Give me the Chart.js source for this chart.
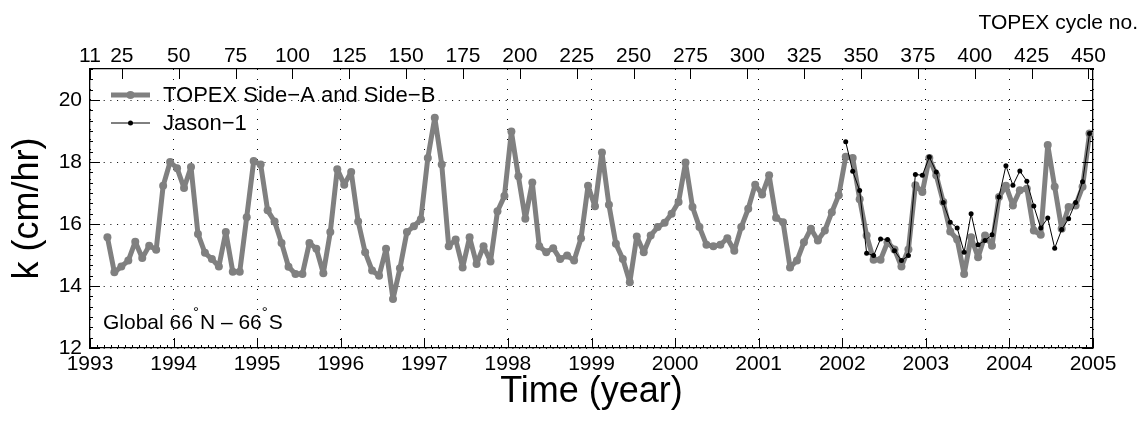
<!DOCTYPE html>
<html>
<head>
<meta charset="utf-8">
<script src="https://cdn.jsdelivr.net/npm/chart.js@4.4.0/dist/chart.umd.min.js"></script>
<style>
  html, body { margin: 0; padding: 0; background: #fff; }
</style>
</head>
<body>
<canvas id="myChart" width="1144" height="421"></canvas>
<script>
const startYear = 1993;
// monthly means, first value = March 1993
const topexStartMonth = 2;
const topexValues = [
  15.57, 14.44, 14.63, 14.82, 15.43, 14.90, 15.30, 15.17, 17.23, 18.00,
  17.80, 17.16, 17.84, 15.68, 15.07, 14.87, 14.63, 15.74, 14.46, 14.46, 16.22, 18.03,
  17.92, 16.44, 16.08, 15.39, 14.62, 14.39, 14.39, 15.39, 15.20, 14.41, 15.74, 17.77,
  17.27, 17.68, 16.08, 15.09, 14.50, 14.33, 15.20, 13.58, 14.57, 15.74, 15.93, 16.15,
  18.13, 19.43, 17.92, 15.28, 15.50, 14.60, 15.57, 14.71, 15.28, 14.79, 16.41, 16.90,
  18.98, 17.54, 16.17, 17.34, 15.28, 15.09, 15.22, 14.87, 14.98, 14.82, 15.54, 17.23,
  16.57, 18.31, 16.62, 15.36, 14.87, 14.12, 15.60, 15.09, 15.63, 15.90, 16.04, 16.33,
  16.71, 17.98, 16.55, 15.90, 15.33, 15.28, 15.33, 15.54, 15.14, 15.90, 16.49, 17.27,
  16.95, 17.57, 16.20, 16.06, 14.60, 14.82, 15.41, 15.85, 15.47, 15.79, 16.38, 16.93,
  18.17, 18.13, 16.80, 15.63, 14.85, 14.85, 15.41, 15.18, 14.63, 15.18, 17.25, 17.03,
  18.13, 17.57, 16.71, 15.76, 15.50, 14.39, 15.57, 14.93, 15.63, 15.30, 16.87, 17.23,
  16.60, 17.09, 17.14, 15.79, 15.65, 18.55, 17.20, 15.85, 16.55, 16.60, 17.20, 18.92
];
// first value = January 2002
const jasonStartMonth = 108;
const jasonValues = [
  18.65, 17.70, 17.08, 15.06, 14.98, 15.52, 15.50, 15.14, 14.82, 14.98, 17.60, 17.57,
  18.16, 17.68, 16.69, 16.06, 15.87, 15.09, 16.33, 15.33, 15.47, 15.65, 16.87, 17.88,
  17.25, 17.71, 17.38, 16.58, 15.87, 16.19, 15.22, 15.82, 16.17, 16.69, 17.36, 18.92
];
const yearTicks = [1993, 1994, 1995, 1996, 1997, 1998, 1999, 2000, 2001, 2002, 2003, 2004, 2005];
const kTicks = [12, 14, 16, 18, 20];
const cycleTicks = [11, 25, 50, 75, 100, 125, 150, 175, 200, 225, 250, 275, 300, 325, 350, 375, 400, 425, 450];
const cycleMin = 11;
const cycleMax = 452;

const FONT = "'Liberation Sans', Arial, Helvetica, sans-serif";

function toPoints(values, startMonth) {
  return values.map((v, i) => ({ x: startYear + (startMonth + i + 0.5) / 12, y: v }));
}

const decorations = {
  id: 'decorations',
  afterDraw(chart) {
    const { ctx, chartArea: a, scales } = chart;
    ctx.save();
    ctx.strokeStyle = '#000';
    ctx.lineWidth = 1;
    const line = (x1, y1, x2, y2) => {
      ctx.beginPath(); ctx.moveTo(x1, y1); ctx.lineTo(x2, y2); ctx.stroke();
    };
    // bottom: year ticks + monthly minor ticks
    const xs = scales.x;
    for (let m = 0; m <= (xs.max - xs.min) * 12; m++) {
      const px = Math.round(xs.getPixelForValue(xs.min + m / 12)) + 0.5;
      line(px, a.bottom, px, a.bottom - (m % 12 === 0 ? 10 : 3));
    }
    // top: cycle ticks
    const xt = scales.xTop;
    cycleTicks.forEach(c => {
      const px = Math.round(xt.getPixelForValue(c)) + 0.5;
      line(px, a.top, px, a.top + 10);
    });
    // left/right: major + minor ticks
    const ys = scales.y;
    for (let k = 0; k <= (ys.max - ys.min) * 3; k++) {
      const v = ys.min + k / 3;
      const py = Math.round(ys.getPixelForValue(v)) + 0.5;
      const major = kTicks.some(t => Math.abs(t - v) < 1e-6);
      const len = major ? 10 : 3;
      line(a.left, py, a.left + len, py);
      line(a.right, py, a.right - len, py);
    }

    // legend
    ctx.font = '22px ' + FONT;
    ctx.textBaseline = 'middle';
    ctx.textAlign = 'left';
    ctx.fillStyle = '#000';
    const rows = [95, 123];
    chart.data.datasets.slice().sort((p, q) => q.order - p.order).forEach((ds, i) => {
      const y = rows[i];
      ctx.strokeStyle = ds.borderColor;
      ctx.lineWidth = ds.borderWidth;
      line(111, y, 150, y);
      ctx.fillStyle = ds.pointBackgroundColor;
      ctx.beginPath(); ctx.arc(130.5, y, ds.pointRadius, 0, Math.PI * 2); ctx.fill();
      ctx.fillStyle = '#000';
      ctx.fillText(ds.label, 163, y + 1);
    });

    // region note
    ctx.textBaseline = 'alphabetic';
    const parts = [['Global 66', 21, 0], ['°', 15, -12], ['N \u2013 66', 21, 0], ['°', 15, -12], ['S', 21, 0]];
    let x = 103;
    parts.forEach(([t, size, dy]) => {
      ctx.font = size + 'px ' + FONT;
      ctx.fillText(t, x, 329 + dy);
      x += ctx.measureText(t).width + (dy ? 1 : 0);
    });

    // top axis title
    ctx.font = '21px ' + FONT;
    ctx.textAlign = 'right';
    ctx.textBaseline = 'middle';
    ctx.fillText('TOPEX cycle no.', 1138, 23);
    ctx.restore();
  }
};

const ctx = document.getElementById('myChart').getContext('2d');
window.kChart = new Chart(ctx, {
  type: 'line',
  data: {
    datasets: [
      {
        label: 'TOPEX Side\u2212A and Side\u2212B',
        data: toPoints(topexValues, topexStartMonth),
        borderColor: '#808080',
        backgroundColor: '#808080',
        pointBackgroundColor: '#808080',
        pointBorderWidth: 0,
        borderWidth: 5,
        borderJoinStyle: 'round',
        borderCapStyle: 'round',
        pointRadius: 4,
        tension: 0,
        order: 2
      },
      {
        label: 'Jason\u22121',
        data: toPoints(jasonValues, jasonStartMonth),
        borderColor: '#000',
        backgroundColor: '#000',
        pointBackgroundColor: '#000',
        pointBorderWidth: 0,
        borderWidth: 1,
        borderJoinStyle: 'round',
        pointRadius: 2.5,
        tension: 0,
        order: 1
      }
    ]
  },
  options: {
    responsive: false,
    animation: false,
    devicePixelRatio: 1,
    layout: { padding: 0 },
    plugins: { legend: { display: false }, tooltip: { enabled: false } },
    scales: {
      x: {
        type: 'linear',
        position: 'bottom',
        min: 1993,
        max: 2005,
        afterBuildTicks: s => { s.ticks = yearTicks.map(v => ({ value: v })); },
        afterFit: s => { s.height = 73; },
        ticks: { autoSkip: false, maxRotation: 0, color: '#000', padding: 4, font: { family: FONT, size: 21 }, callback: v => String(v) },
        grid: { color: '#000', lineWidth: 1, drawTicks: false },
        border: { color: '#000', width: 1.3, dash: [1, 9] },
        title: { display: true, text: 'Time (year)', color: '#000', font: { family: FONT, size: 36 }, padding: { top: 0, bottom: 7 } }
      },
      xTop: {
        type: 'linear',
        position: 'top',
        min: cycleMin,
        max: cycleMax,
        afterBuildTicks: s => { s.ticks = cycleTicks.map(v => ({ value: v })); },
        afterFit: s => { s.height = 69; },
        ticks: { autoSkip: false, maxRotation: 0, color: '#000', padding: 0, font: { family: FONT, size: 21 }, callback: v => String(v) },
        grid: { drawOnChartArea: false, drawTicks: false },
        border: { color: '#000', width: 1.3 }
      },
      y: {
        type: 'linear',
        position: 'left',
        min: 12,
        max: 21,
        afterBuildTicks: s => { s.ticks = kTicks.map(v => ({ value: v })); },
        afterFit: s => { s.width = 90; },
        ticks: { color: '#000', padding: 8, font: { family: FONT, size: 21 } },
        grid: { color: '#000', lineWidth: 1, drawTicks: false },
        border: { color: '#000', width: 1.3, dash: [1, 5.7] },
        title: { display: true, text: 'k (cm/hr)', color: '#000', font: { family: FONT, size: 36 }, padding: { top: 6, bottom: 0 } }
      },
      yRight: {
        type: 'linear',
        position: 'right',
        min: 12,
        max: 21,
        afterFit: s => { s.width = 51; },
        ticks: { display: false },
        grid: { drawOnChartArea: false, drawTicks: false },
        border: { color: '#000', width: 1.3 }
      }
    }
  },
  plugins: [decorations]
});
</script>
</body>
</html>
